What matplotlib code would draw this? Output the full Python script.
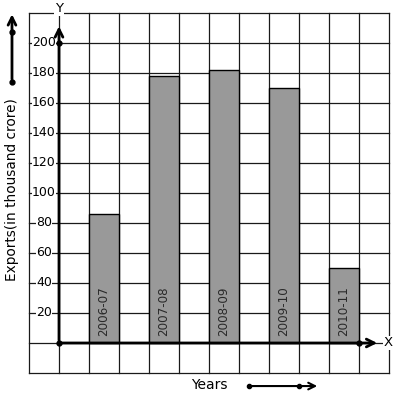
import matplotlib
matplotlib.use('Agg')
import matplotlib.pyplot as plt

years = ['2006-07', '2007-08', '2008-09', '2009-10', '2010-11']
exports = [86, 178, 182, 170, 50]
positions = [1.5, 3.5, 5.5, 7.5, 9.5]
yticks = [20, 40, 60, 80, 100, 120, 140, 160, 180, 200]

fig = plt.figure(figsize=(3.97, 3.99), dpi=100)
ax = fig.add_axes([0, 0, 1, 1])
ax.set_xlim(-59 / 30, 338 / 30)
ax.set_ylim(-56 / 1.5, 343 / 1.5)
ax.axis('off')

# grid paper
for gx in range(-1, 12):
    ax.plot([gx, gx], [-20, 220], color='#1a1a1a', lw=0.9, zorder=1)
for gy in range(-20, 240, 20):
    ax.plot([-1, 11], [gy, gy], color='#1a1a1a', lw=0.9, zorder=1)

# bars
ax.bar(positions, exports, width=1, color='#999999', edgecolor='black', lw=1, zorder=2)
for x, lab in zip(positions, years):
    ax.text(x, 5, lab, rotation=90, ha='center', va='bottom', fontsize=8.6,
            color='#2a2a2a', zorder=3)

# y tick labels
for t in yticks:
    ax.text(-0.5, t, str(t), ha='center', va='center', fontsize=9, zorder=3,
            bbox=dict(facecolor='white', edgecolor='none', pad=0.3))

# axes with arrows
arrow = dict(arrowstyle='->', lw=2, color='black', mutation_scale=14)
ax.annotate('', xy=(0, 213), xytext=(0, 0), arrowprops=arrow, zorder=4)
ax.annotate('', xy=(10.7, 0), xytext=(0, 0), arrowprops=arrow, zorder=4)
ax.plot([0, 0, 10], [0, 200, 0], 'o', color='black', ms=3.5, zorder=5)
ax.text(0, 223, 'Y', ha='center', va='center', fontsize=9.5, zorder=4,
        bbox=dict(facecolor='white', edgecolor='none', pad=0.5))
ax.text(10.97, 0, 'X', ha='center', va='center', fontsize=9.5, zorder=4,
        bbox=dict(facecolor='white', edgecolor='none', pad=0.5))

# y label with arrow
ax.text(-1.567, 102, 'Exports(in thousand crore)', rotation=90, ha='center',
        va='center', fontsize=9.8)
ax.annotate('', xy=(-1.567, 221), xytext=(-1.567, 174), arrowprops=arrow)
ax.plot([-1.567, -1.567], [174, 207.3], 'o', color='black', ms=3.5)

# x label with arrow
ax.text(5.0, -28, 'Years', ha='center', va='center', fontsize=10)
ax.annotate('', xy=(8.7, -28.7), xytext=(6.33, -28.7),
            arrowprops=dict(arrowstyle='->', lw=1.5, color='black', mutation_scale=12))
ax.plot([6.33, 8.0], [-28.7, -28.7], 'o', color='black', ms=3)

fig.savefig('out.png', dpi=100)
